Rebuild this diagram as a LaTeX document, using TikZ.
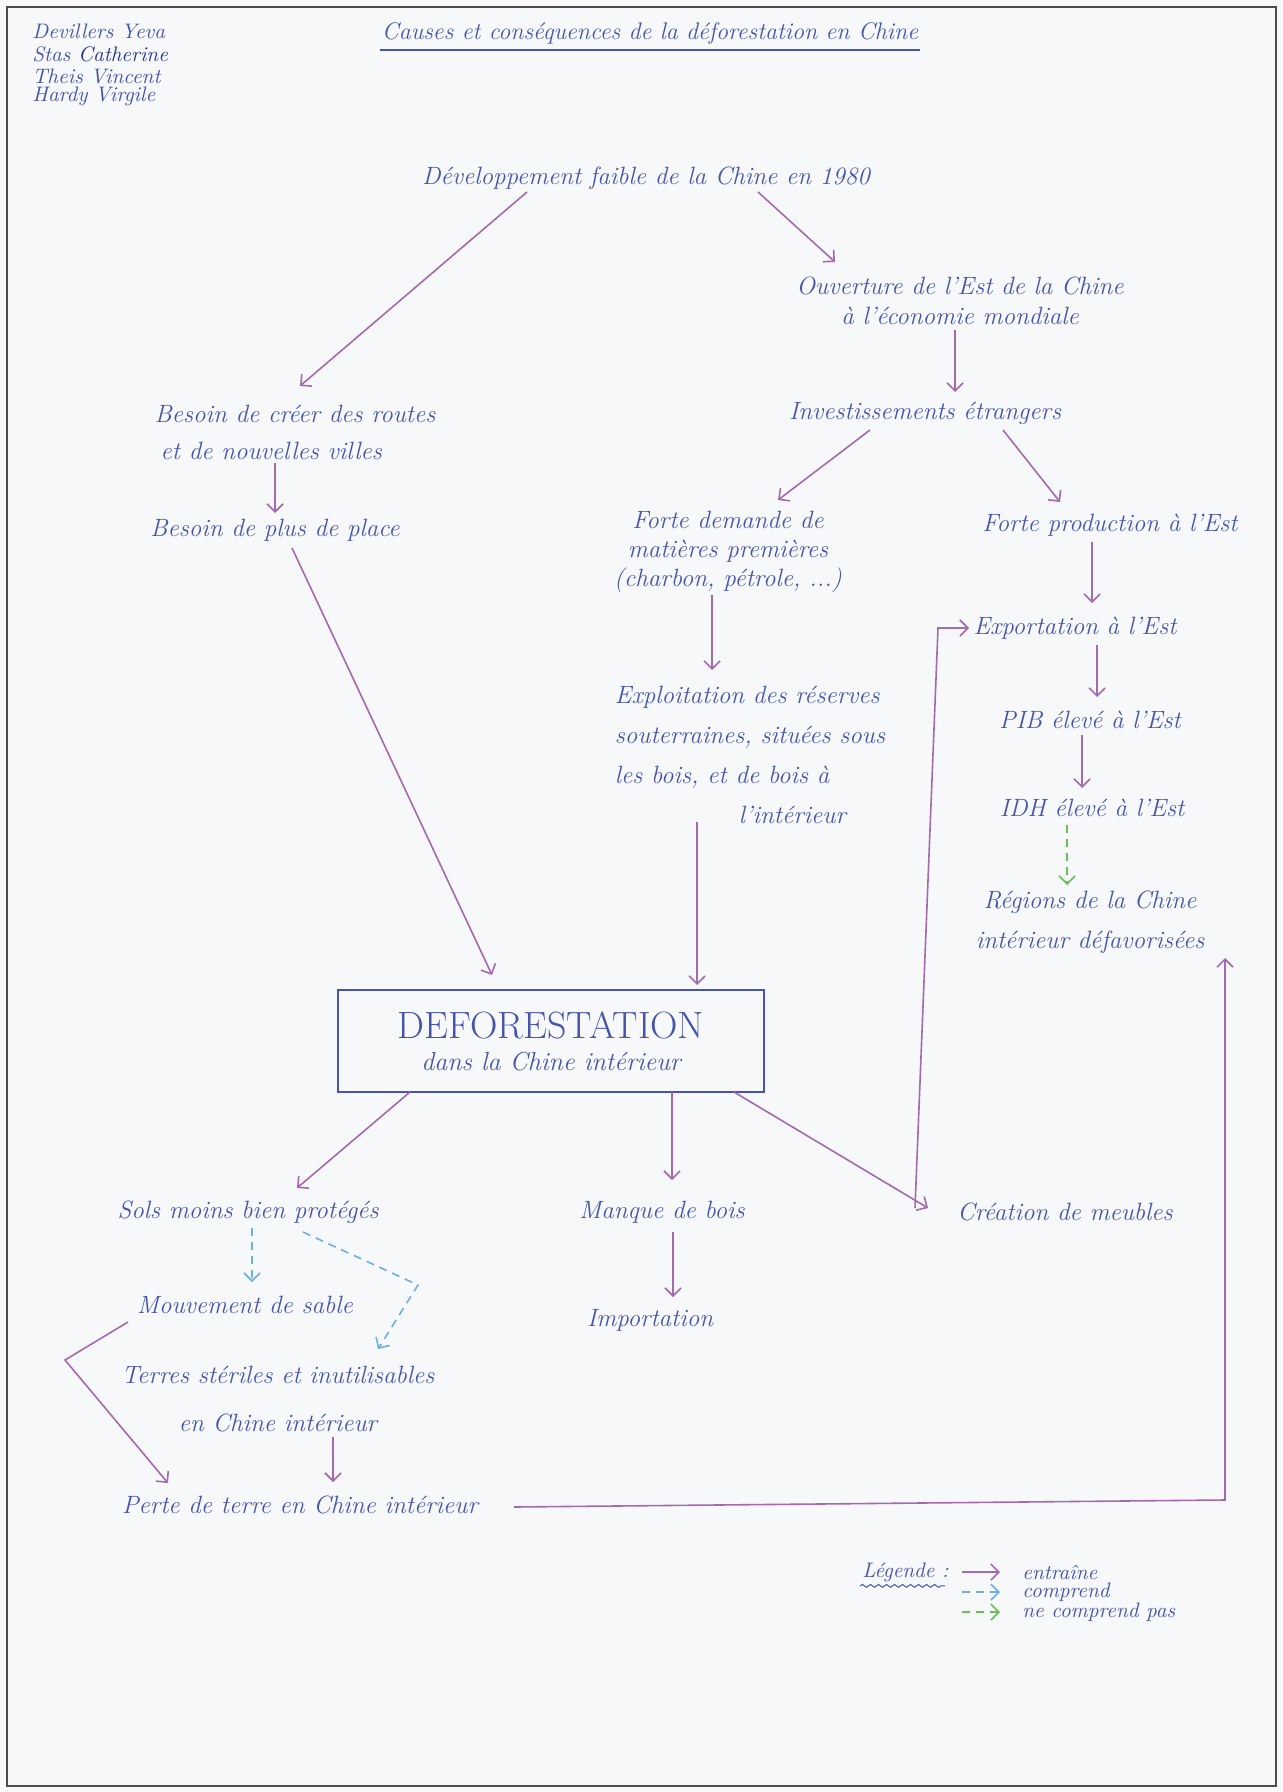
\documentclass[tikz,border=0pt]{standalone}
\usepackage{fontspec}
\usetikzlibrary{arrows.meta,calc,decorations.pathmorphing}
\definecolor{ink}{RGB}{72,84,172}
\definecolor{darkink}{RGB}{45,55,140}
\definecolor{plum}{RGB}{165,105,175}
\definecolor{dblue}{RGB}{110,175,225}
\definecolor{dgreen}{RGB}{105,190,85}
\definecolor{paper}{RGB}{246,248,250}
\definecolor{framec}{RGB}{75,75,80}
\tikzset{
  txt/.style={text=ink, font=\fontsize{12.5}{15}\selectfont\itshape, inner sep=1pt, align=center},
  small/.style={txt, font=\fontsize{10.5}{12}\selectfont\itshape},
  tip/.style={-{Straight Barb[length=4pt,width=8pt]}},
  arr/.style={draw=plum, line width=0.8pt, tip},
  darr/.style={draw=dblue, line width=0.8pt, dash pattern=on 4pt off 3pt, tip},
  garr/.style={draw=dgreen, line width=0.8pt, dash pattern=on 4pt off 3pt, tip},
  mainbox/.style={draw=ink, line width=0.9pt, text=ink, align=center, minimum width=213pt, minimum height=51pt, inner sep=2pt}
}
\begin{document}
\begin{tikzpicture}[x=0.5pt,y=-0.5pt]
\fill[paper] (0,0) rectangle (1282,1792);
\useasboundingbox (0,0) rectangle (1282,1792);
\draw[framec, line width=1.2pt] (7,7) rectangle (1276,1786);

% authors
\node[small, anchor=west] (n1) at (30,31) {Devillers Yeva};
\node[small, anchor=west] (n2) at (30,54) {Stas \textcolor{darkink}{Catherine}};
\node[small, anchor=west] (n3) at (30,76) {Theis Vincent};
\node[small, anchor=west] (n4) at (30,96) {Hardy Virgile};

% title
\node[txt, font=\fontsize{12}{14}\selectfont\itshape] (title) at (650,34) {Causes et conséquences de la déforestation en Chine};
\draw[ink, line width=0.8pt] ($(title.south west)+(0,3)$) -- ($(title.south east)+(0,3)$);

% nodes
\node[txt] (dev) at (646,178) {Développement faible de la Chine en 1980};
\node[txt, font=\fontsize{12.5}{15}\selectfont\itshape] (ouv) at (960,301) {Ouverture de l'Est de la Chine\\à l'économie mondiale};
\node[txt] (inv) at (925,413) {Investissements étrangers};
\node[txt, align=left, font=\fontsize{12.5}{18.5}\selectfont\itshape] (bes1) at (295,432) {Besoin de créer des routes\\\hspace*{3pt}et de nouvelles villes};
\node[txt] (bes2) at (275,530) {Besoin de plus de place};
\node[txt, font=\fontsize{12.5}{14.5}\selectfont\itshape] (fdem) at (728,552) {Forte demande de\\matières premières\\(charbon, pétrole, ...)};
\node[txt] (fprod) at (1110,525) {Forte production à l'Est};
\node[txt] (expo) at (1075,628) {Exportation à l'Est};
\node[txt] (pib) at (1090,720) {PIB élevé à l'Est};
\node[txt] (idh) at (1092,808) {IDH élevé à l'Est};
\node[txt, font=\fontsize{12.5}{20}\selectfont\itshape] (reg) at (1090,922) {Régions de la Chine\\intérieur défavorisées};
\node[txt, align=left, font=\fontsize{12.5}{20}\selectfont\itshape] (explo) at (750,755) {Exploitation des réserves\\souterraines, situées sous\\les bois, et de bois à\\\hspace*{62pt}l'intérieur};

\node[mainbox] (defo) at (551,1041) {{\fontsize{19}{22}\selectfont\addfontfeature{LetterSpace=10}DEFORESTATION}\\[4pt]{\fontsize{13}{15}\selectfont\itshape dans la Chine intérieur}};

\node[txt] (sols) at (248,1212) {Sols moins bien protégés};
\node[txt] (manq) at (662,1212) {Manque de bois};
\node[txt] (crea) at (1065,1212) {Création de meubles};
\node[txt] (mouv) at (245,1305) {Mouvement de sable};
\node[txt] (impo) at (650,1320) {Importation};
\node[txt, font=\fontsize{12.5}{24}\selectfont\itshape] (terr) at (278,1399) {Terres stériles et inutilisables\\en Chine intérieur};
\node[txt] (perte) at (300,1505) {Perte de terre en Chine intérieur};

% corner coordinates
\coordinate (k1) at (938,628);
\coordinate (k2) at (418,1285);
\coordinate (k3) at (65,1360);
\coordinate (k4) at (1225,1500);

% connectors
\draw[arr] ($(dev)+(-119,14)$) -- ($(bes1)+(5,-46)$);
\draw[arr] ($(dev)+(112,14)$) -- ($(ouv)+(-125,-39)$);
\draw[arr] ($(ouv)+(-5,29)$) -- ($(inv)+(30,-21)$);
\draw[arr] ($(inv)+(-55,17)$) -- ($(fdem)+(50,-52)$);
\draw[arr] ($(inv)+(78,17)$) -- ($(fprod)+(-50,-23)$);
\draw[arr] ($(bes1)+(-20,31)$) -- ($(bes2)+(0,-17)$);
\draw[arr] ($(fdem)+(-16,43)$) -- ($(explo)+(-38,-85)$);
\draw[arr] ($(fprod)+(-18,17)$) -- ($(expo)+(17,-25)$);
\draw[arr] ($(expo)+(22,17)$) -- ($(pib)+(7,-23)$);
\draw[arr] ($(pib)+(-8,15)$) -- ($(idh)+(-10,-20)$);
\draw[garr] ($(idh)+(-25,17)$) -- ($(reg)+(-23,-37)$);
\draw[arr] ($(bes2)+(17,18)$) -- ($(defo)+(-59,-66)$);
\draw[arr] ($(explo)+(-53,67)$) -- ($(defo)+(146,-56)$);
\draw[arr] ($(defo)+(-141,51)$) -- ($(sols)+(49,-24)$);
\draw[arr] ($(defo)+(121,51)$) -- ($(manq)+(10,-32)$);
\draw[arr] ($(defo)+(183,51)$) -- ($(crea)+(-137,-4)$);
\draw[arr] ($(crea)+(-150,-4)$) -- (k1) -- ($(expo)+(-106,0)$);
\draw[arr] ($(manq)+(11,20)$) -- ($(impo)+(23,-23)$);
\draw[darr] ($(sols)+(4,16)$) -- ($(mouv)+(7,-23)$);
\draw[darr] ($(sols)+(55,20)$) -- (k2) -- ($(terr)+(100,-50)$);
\draw[arr] ($(mouv)+(-117,17)$) -- (k3) -- ($(perte)+(-132,-22)$);
\draw[arr] ($(terr)+(55,38)$) -- ($(perte)+(33,-23)$);
\draw[arr] ($(perte)+(214,2)$) -- (k4) -- ($(reg)+(135,36)$);

% legend
\node[small, anchor=west] (leg) at (860,1572) {Légende :};
\draw[ink, line width=0.5pt, decorate, decoration={snake, amplitude=0.7pt, segment length=4pt}] ($(leg.south west)+(0,2)$) -- ($(leg.south east)+(-6,2)$);
\node[small, anchor=west] (l1) at (1020,1572) {entraîne};
\node[small, anchor=west] (l2) at (1020,1592) {comprend};
\node[small, anchor=west] (l3) at (1020,1612) {ne comprend pas};
\draw[arr] ($(l1.west)+(-58,0)$) -- ($(l1.west)+(-20,0)$);
\draw[darr] ($(l2.west)+(-58,0)$) -- ($(l2.west)+(-20,0)$);
\draw[garr] ($(l3.west)+(-58,0)$) -- ($(l3.west)+(-20,0)$);
\end{tikzpicture}
\end{document}
